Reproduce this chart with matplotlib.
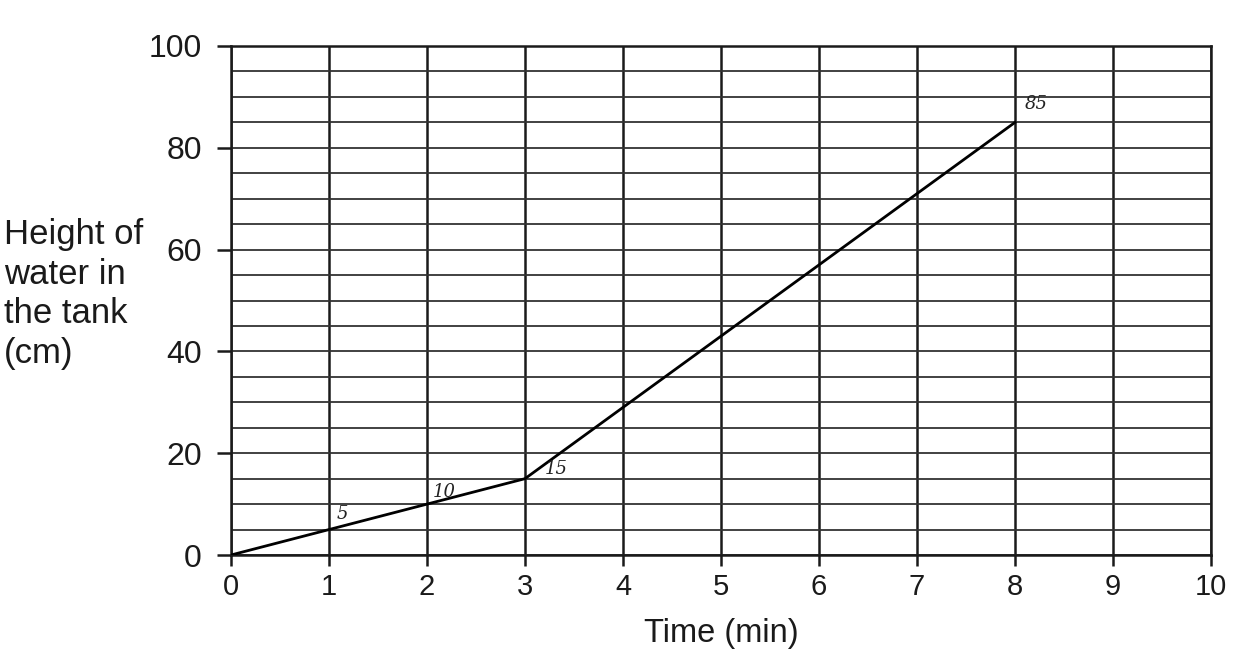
import numpy as np
import matplotlib.pyplot as plt

plt.rcParams['font.family'] = ['Liberation Sans', 'DejaVu Sans']

time_min = [0, 1, 2, 3, 8]
height_cm = [0, 5, 10, 15, 85]
point_notes = ['5', '10', '15', '85']
x_ticks = list(range(0, 11))
y_ticks = [0, 20, 40, 60, 80, 100]

fig = plt.figure(figsize=(12.43, 6.58), dpi=100)
ax = fig.add_axes([0.1858, 0.1565, 0.7885, 0.7736])

ax.set_xlim(0, 10)
ax.set_ylim(0, 100)

# grid: every minute vertically, every 5 cm horizontally
for xv in x_ticks:
    ax.axvline(xv, color='#1a1a1a', lw=1.8, zorder=1)
for yv in np.arange(0, 101, 5):
    ax.axhline(yv, color='#333333', lw=1.3, zorder=1)

ax.plot(time_min, height_cm, color='black', lw=2, zorder=3)

# handwritten notes next to the points
offsets = [(0.08, 1.2), (0.06, 0.6), (0.2, 0.2), (0.1, 1.8)]
for (xv, yv), note, (dx, dy) in zip(zip(time_min[1:], height_cm[1:]), point_notes, offsets):
    ax.text(xv + dx, yv + dy, note, fontsize=13, family='DejaVu Serif',
            style='italic', color='#222222', va='bottom', ha='left', zorder=4)

ax.set_xticks(x_ticks)
ax.set_yticks(y_ticks)
ax.tick_params(axis='x', direction='out', length=8, width=1.8,
               labelsize=21, colors='#1a1a1a', pad=5)
ax.tick_params(axis='y', direction='out', length=10, width=1.8,
               labelsize=23, colors='#1a1a1a', pad=11)
for s in ax.spines.values():
    s.set_color('#1a1a1a')
    s.set_linewidth(1.8)

ax.set_xlabel('Time (min)', fontsize=23.5, color='#1a1a1a', labelpad=12)
fig.text(4 / 1243, 1 - 294 / 658, 'Height of\nwater in\nthe tank\n(cm)',
         fontsize=25, color='#1a1a1a', ha='left', va='center',
         multialignment='left', linespacing=1.25)

fig.savefig('out.png', dpi=100)
